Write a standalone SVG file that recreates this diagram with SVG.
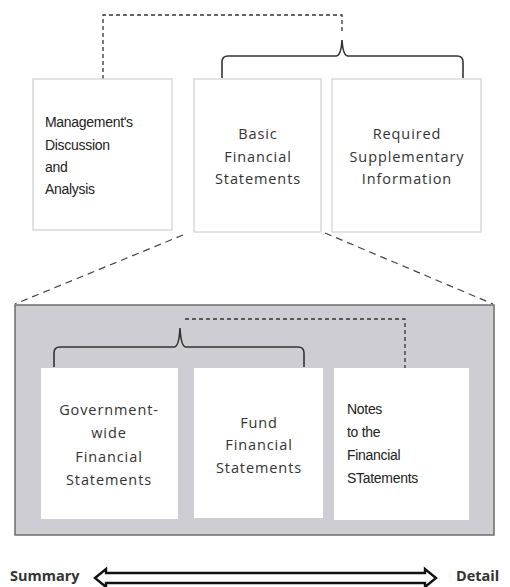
<svg xmlns="http://www.w3.org/2000/svg" width="510" height="587" viewBox="0 0 510 587">
<style>
.box{fill:#fff;stroke:#d0d0d0;stroke-width:1.2}
.ibox{fill:#fff;stroke:none}
.panel{fill:#cdcdd3;stroke:#6e6e6e;stroke-width:1.5}
.dash{fill:none;stroke:#333;stroke-width:1.3;stroke-dasharray:4,3}
.ldash{fill:none;stroke:#444;stroke-width:1.2;stroke-dasharray:7,5}
.brace{fill:none;stroke:#333;stroke-width:1.6}
.cal{font-family:"Open Sans",sans-serif;font-size:14.5px;letter-spacing:0.9px;fill:#333;text-anchor:middle}
.nar{font-family:"Liberation Sans",Arial,sans-serif;font-size:14px;letter-spacing:-0.3px;fill:#222}
.bold{font-family:"Open Sans",sans-serif;font-size:14.5px;font-weight:bold;fill:#333}
</style>
<g id="connectors">
<path class="ldash" d="M183,235 L15,304"/>
<path class="ldash" d="M325,233 L493,304"/>
<path class="dash" d="M103,79 V15 H342 V34"/>
<path class="brace" d="M222,78 V62 Q222,56 228,56 H336 Q341,56 342,40 Q343,56 348,56 H457 Q463,56 463,62 V78"/>
</g>
<g id="mda">
<rect class="box" x="33" y="79" width="139" height="151"/>
<text class="nar" x="45" y="127">Management's</text>
<text class="nar" x="45" y="150">Discussion</text>
<text class="nar" x="45" y="172">and</text>
<text class="nar" x="45" y="194">Analysis</text>
</g>
<g id="basic">
<rect class="box" x="194" y="79" width="127" height="153"/>
<text class="cal" x="258" y="139">Basic</text>
<text class="cal" x="258" y="162">Financial</text>
<text class="cal" x="258" y="184">Statements</text>
</g>
<g id="rsi">
<rect class="box" x="332" y="79" width="149" height="153"/>
<text class="cal" x="407" y="139">Required</text>
<text class="cal" x="407" y="162">Supplementary</text>
<text class="cal" x="407" y="184">Information</text>
</g>
<g id="panel">
<rect class="panel" x="15" y="305" width="479" height="230"/>
</g>
<g id="connectors-inner">
<path class="dash" d="M185,319 H405 V368"/>
<path class="brace" d="M54,367 V353 Q54,347 60,347 H174 Q179,347 180,328 Q181,347 186,347 H298 Q304,347 304,353 V367"/>
</g>
<g id="gwfs">
<rect class="ibox" x="41" y="368" width="137" height="151"/>
<text class="cal" x="109" y="415">Government-</text>
<text class="cal" x="109" y="438">wide</text>
<text class="cal" x="109" y="462">Financial</text>
<text class="cal" x="109" y="485">Statements</text>
</g>
<g id="ffs">
<rect class="ibox" x="194" y="368" width="129" height="150"/>
<text class="cal" x="259" y="428">Fund</text>
<text class="cal" x="259" y="450">Financial</text>
<text class="cal" x="259" y="473">Statements</text>
</g>
<g id="notes">
<rect class="ibox" x="334" y="368" width="135" height="152"/>
<text class="nar" x="347" y="414">Notes</text>
<text class="nar" x="347" y="437">to the</text>
<text class="nar" x="347" y="460">Financial</text>
<text class="nar" x="347" y="483">STatements</text>
</g>
<g id="scale">
<path d="M95,578 L106,569 V573 H425 V569 L436,578 L425,587 V583 H106 V587 Z" fill="#fff" stroke="#111" stroke-width="2.4" stroke-linejoin="miter"/>
<text class="bold" x="10" y="581">Summary</text>
<text class="bold" x="456" y="581">Detail</text>
</g>
</svg>
